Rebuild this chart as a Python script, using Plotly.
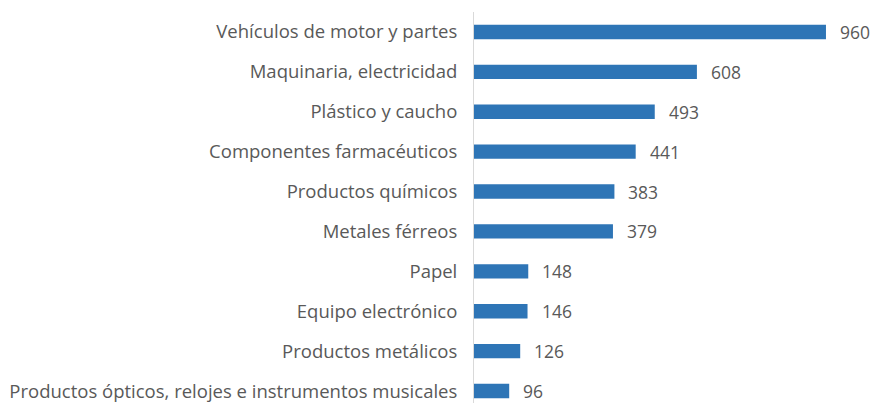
import plotly.graph_objects as go

categories = [
    "Vehículos de motor y partes",
    "Maquinaria, electricidad",
    "Plástico y caucho",
    "Componentes farmacéuticos",
    "Productos químicos",
    "Metales férreos",
    "Papel",
    "Equipo electrónico",
    "Productos metálicos",
    "Productos ópticos, relojes e instrumentos musicales",
]
values = [960, 608, 493, 441, 383, 379, 148, 146, 126, 96]

font_family = "Open Sans"
text_color = "#595959"
bar_color = "#2E75B6"

fig = go.Figure()
fig.add_trace(go.Bar(
    x=values, y=categories, orientation="h",
    marker=dict(color=bar_color, line=dict(width=0)),
    width=0.36,
    hoverinfo="x+y",
))

for c, v in zip(categories, values):
    fig.add_annotation(x=v, y=c, text=str(v), showarrow=False,
                       xanchor="left", xshift=12,
                       font=dict(family=font_family, size=17.5, color=text_color))

fig.update_layout(
    width=874, height=403,
    margin=dict(l=474, r=0, t=12, b=0, pad=0),
    paper_bgcolor="white", plot_bgcolor="white",
    showlegend=False,
    font=dict(family=font_family, size=18.5, color=text_color),
    xaxis=dict(range=[0, 1091], showgrid=False, zeroline=False,
               showticklabels=False, ticks="", showline=False, fixedrange=True),
    yaxis=dict(type="category", range=[9.3, -0.5], showgrid=False, zeroline=False,
               showline=True, linecolor="#D9D9D9", linewidth=1, ticks="",
               ticklabelstandoff=12, fixedrange=True,
               tickfont=dict(family=font_family, size=18.5, color=text_color)),
)

fig.write_html("out.html",
               config={"displayModeBar": False},
               post_script="document.body.style.margin='0px';document.body.style.overflow='hidden';")
